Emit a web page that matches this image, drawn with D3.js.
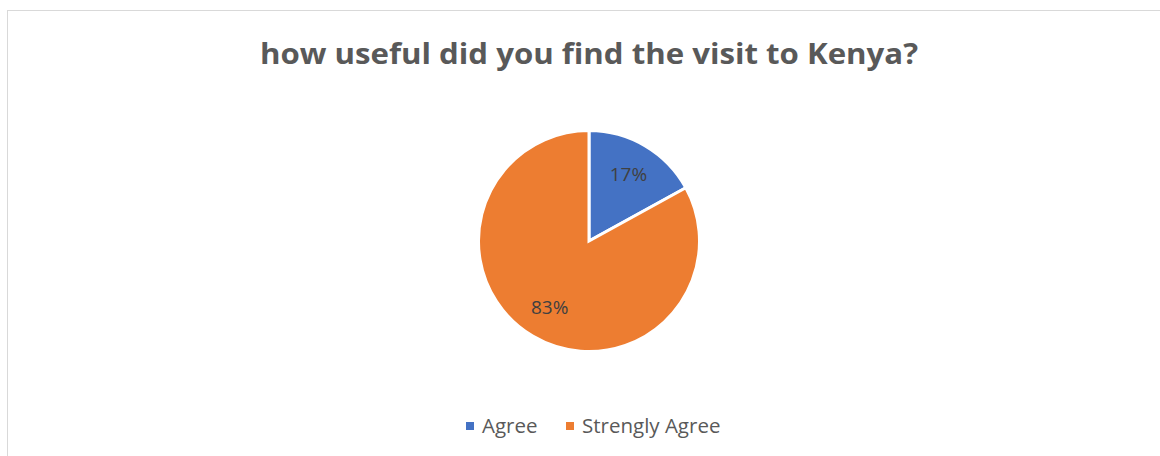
<!DOCTYPE html>
<html><head><meta charset="utf-8">
<script src="https://cdn.jsdelivr.net/npm/d3@7"></script>
<style>html,body{margin:0;padding:0;background:#fff;}svg{display:block;}</style>
</head><body>
<svg id="c" width="1160" height="456"></svg>
<script>
const title = "how useful did you find the visit to Kenya?";
const categories = ["Agree", "Strengly Agree"];
const values = [17, 83];
const colors = ["#4472C4", "#ED7D31"];

const W = 1160, H = 456;
const svg = d3.select("#c");
svg.append("rect").attr("x", 7.5).attr("y", 10.5).attr("width", W).attr("height", H)
  .attr("fill", "#fff").attr("stroke", "#d9d9d9").attr("stroke-width", 1);

svg.append("text").attr("x", 589).attr("y", 64).attr("text-anchor", "middle")
  .attr("font-family", "'Open Sans', 'Noto Sans', sans-serif").attr("font-weight", "bold")
  .attr("font-size", 29).attr("fill", "#595959").attr("textLength", 658).attr("lengthAdjust", "spacingAndGlyphs")
  .text(title);

const data = categories.map((c, i) => ({cat: c, val: values[i], color: colors[i]}));
const cx = 589, cy = 241, r = 110.5;
const pie = d3.pie().value(d => d.val).sort(null);
const arc = d3.arc().innerRadius(0).outerRadius(r);
const g = svg.append("g").attr("transform", `translate(${cx},${cy})`);
const arcs = pie(data);
g.selectAll("path").data(arcs).join("path")
  .attr("d", arc).attr("fill", d => d.data.color)
  .attr("stroke", "#fff").attr("stroke-width", 3).attr("stroke-linejoin", "miter");

const labelArc = d3.arc().innerRadius(r * 0.7).outerRadius(r * 0.7);
const total = d3.sum(values);
g.selectAll("text.lbl").data(arcs).join("text").attr("class", "lbl")
  .attr("transform", d => { const p = labelArc.centroid(d); return `translate(${p[0]},${p[1]})`; })
  .attr("text-anchor", "middle").attr("dy", "0.35em")
  .attr("font-family", "'Open Sans', 'Noto Sans', sans-serif").attr("font-size", 19)
  .attr("fill", "#404040")
  .text(d => Math.round(d.data.val / total * 100) + "%");

const leg = svg.append("g");
const legX = [466, 566];
const legItems = leg.selectAll("g").data(data).join("g")
  .attr("transform", (d, i) => `translate(${legX[i]},422)`);
legItems.append("rect").attr("width", 8).attr("height", 8).attr("fill", d => d.color);
legItems.append("text").attr("x", 16).attr("y", 4).attr("dy", "0.35em")
  .attr("font-family", "'Open Sans', 'Noto Sans', sans-serif").attr("font-size", 20.5)
  .attr("fill", "#595959").text(d => d.cat);
</script>
</body></html>
